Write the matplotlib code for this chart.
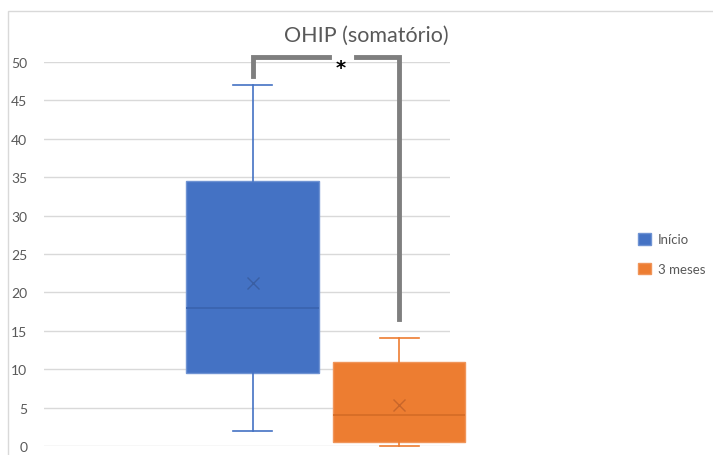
import matplotlib.pyplot as plt
from matplotlib.patches import Rectangle

plt.rcParams['font.family'] = ['Lato', 'DejaVu Sans']

series = ['Início', '3 meses']
whislo = [2, 0]
q1 = [9.5, 0.5]
med = [18, 4]
q3 = [34.5, 11]
whishi = [47, 14]
means = [21.2, 5.3]

fill_colors = ['#4472C4', '#ED7D31']
edge_colors = ['#6F93D3', '#F0955A']
median_colors = ['#3A63AE', '#D46B26']
mean_colors = ['#3A5FA3', '#C8662A']

fig = plt.figure(figsize=(7.13, 4.56), dpi=100)
fig.patches.append(Rectangle((8 / 713, -0.1), 1.2, 1 - 12 / 456 + 0.1,
                             transform=fig.transFigure, fill=False,
                             edgecolor='#d9d9d9', linewidth=1))

ax = fig.add_axes([44 / 713, 1 - 447 / 456, 406 / 713, 384 / 456])
ax.set_xlim(0, 406)
ax.set_ylim(0, 50)

positions = [208.5, 355]
widths = [133, 132]

for i in range(len(series)):
    stats = [dict(whislo=whislo[i], q1=q1[i], med=med[i], q3=q3[i],
                  whishi=whishi[i], mean=means[i], fliers=[], label=series[i])]
    parts = ax.bxp(stats, positions=[positions[i]], widths=[widths[i]],
                   capwidths=[39], patch_artist=True, showmeans=True,
                   boxprops=dict(facecolor=fill_colors[i], edgecolor=edge_colors[i], linewidth=1),
                   whiskerprops=dict(color=fill_colors[i], linewidth=1.2),
                   capprops=dict(color=fill_colors[i], linewidth=1.2),
                   medianprops=dict(color=median_colors[i], linewidth=1.2),
                   meanprops=dict(marker='x', markeredgecolor=mean_colors[i],
                                  markersize=9, markeredgewidth=1),
                   manage_ticks=False, zorder=3)
    for arts in parts.values():
        for a in arts:
            a.set_clip_on(False)

# significance bracket
bx = positions[0]
ox = positions[1]
ytop = 50.65
gray = '#7f7f7f'
ax.plot([bx, bx, 285], [48.2, ytop, ytop], color=gray, lw=3.5,
        solid_joinstyle='miter', clip_on=False, zorder=4)
ax.plot([312, ox, ox], [ytop, ytop, 16.5], color=gray, lw=3.5,
        solid_joinstyle='miter', clip_on=False, zorder=4)
ax.text(297, 49.3, '*', ha='center', va='center', fontsize=14,
        fontweight='bold', color='black', family='DejaVu Sans', zorder=5)

ax.set_yticks(range(0, 51, 5))
ax.set_xticks([])
ax.yaxis.grid(True, color='#d9d9d9', linewidth=1)
ax.set_axisbelow(True)
ax.tick_params(axis='y', length=0, labelsize=10, labelcolor='#595959', pad=12)
for s in ax.spines.values():
    s.set_visible(False)

fig.text(366 / 713, 1 - 36 / 456, 'OHIP (somatório)', ha='center', va='center',
         fontsize=15.5, color='#595959')

handles = [Rectangle((0, 0), 1, 1, facecolor=c, edgecolor=e)
           for c, e in zip(fill_colors, edge_colors)]
fig.legend(handles, series, loc='center left',
           bbox_to_anchor=(626 / 713, 1 - 255 / 456), frameon=False,
           fontsize=9.5, labelcolor='#595959', handlelength=1.0,
           handleheight=1.0, handletextpad=0.5, labelspacing=1.3)

fig.savefig('out.png', dpi=100)
